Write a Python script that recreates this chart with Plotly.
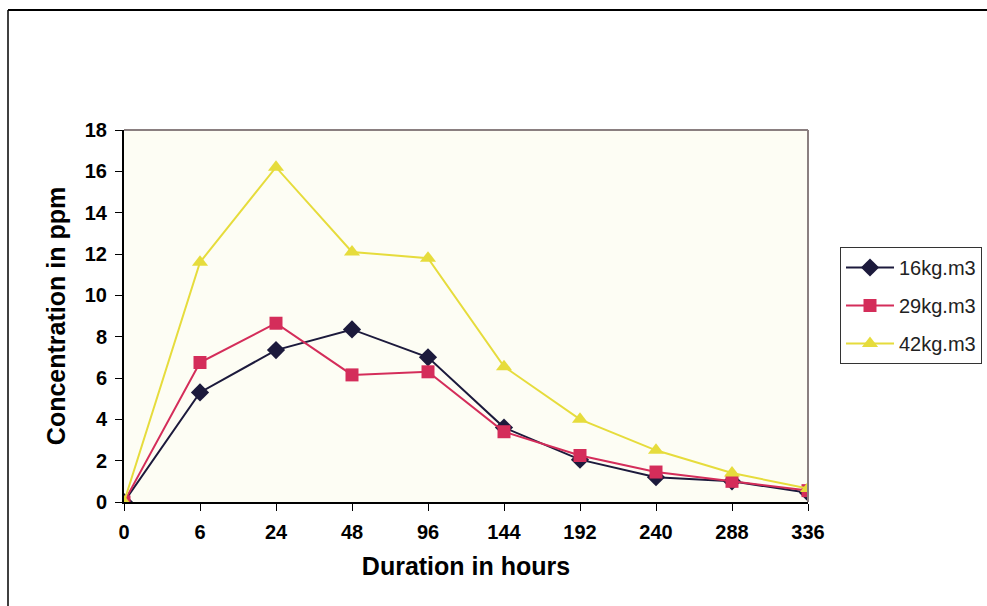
import plotly.graph_objects as go

hours = ["0", "6", "24", "48", "96", "144", "192", "240", "288", "336"]
s16 = [0, 5.3, 7.35, 8.35, 7.0, 3.6, 2.05, 1.2, 1.0, 0.45]
s29 = [0, 6.75, 8.65, 6.15, 6.3, 3.4, 2.25, 1.45, 1.0, 0.55]
s42 = [0, 11.6, 16.2, 12.1, 11.8, 6.55, 4.0, 2.5, 1.4, 0.65]
names = ["16kg.m3", "29kg.m3", "42kg.m3"]
y_ticks = [0, 2, 4, 6, 8, 10, 12, 14, 16, 18]

colors = ["#1c1a3c", "#d42d5a", "#e6dc3c"]
symbols = ["diamond", "square", "triangle-up"]
sizes = [14, 13, 14]

fig = go.Figure()
for i, (vals, nm, c, sym, sz) in enumerate(zip([s16, s29, s42], names, colors, symbols, sizes)):
    fig.add_trace(go.Scatter(
        x=list(range(len(hours))), y=vals, name=nm, mode="lines+markers",
        legendgroup=f"g{i}",
        line=dict(color=c, width=2),
        marker=dict(symbol=sym, size=sz, color=c),
    ))

W, H = 987, 606
L, R, T, B = 124, 808, 130, 502
pw, ph = R - L, B - T

def px(x):
    return (x - L) / pw

def py(y):
    return (B - y) / ph

fig.update_layout(
    width=W, height=H,
    margin=dict(l=L, r=W - R, t=T, b=H - B, autoexpand=False),
    paper_bgcolor="white",
    plot_bgcolor="#fdfdf4",
    font=dict(family="Arial, Liberation Sans, sans-serif", color="black"),
    showlegend=True,
    legend=dict(
        x=px(840), y=py(247), xanchor="left", yanchor="top",
        bordercolor="#333333", borderwidth=1, bgcolor="white",
        font=dict(size=20, color="#222222"),
        itemwidth=48, tracegroupgap=9,
    ),
    xaxis=dict(
        range=[0, 9], tickmode="array", tickvals=list(range(len(hours))), ticktext=hours,
        showgrid=False, zeroline=False, showline=True, linecolor="black", linewidth=2,
        mirror=False, ticks="outside", ticklen=7, tickcolor="black",
        tickfont=dict(size=20, weight="bold", color="black"),
        ticklabelstandoff=4,
        title=dict(text="<b>Duration in hours</b>", font=dict(size=25), standoff=15),
    ),
    yaxis=dict(
        range=[0, 18], tickvals=y_ticks,
        showgrid=False, zeroline=False, showline=True, linecolor="black", linewidth=2,
        ticks="outside", ticklen=7, tickcolor="black",
        tickfont=dict(size=20, weight="bold", color="black"),
        ticklabelstandoff=4,
        title=dict(text="<b>Concentration in ppm</b>", font=dict(size=25), standoff=12),
    ),
    shapes=[
        dict(type="line", xref="paper", yref="paper", x0=0, x1=1, y0=1, y1=1,
             line=dict(color="#8a7f80", width=2)),
        dict(type="line", xref="paper", yref="paper", x0=1, x1=1, y0=0, y1=1,
             line=dict(color="#8a7f80", width=2)),
        dict(type="line", xref="paper", yref="paper", x0=px(8), x1=px(1000), y0=py(10), y1=py(10),
             line=dict(color="black", width=2)),
        dict(type="line", xref="paper", yref="paper", x0=px(8), x1=px(8), y0=py(10), y1=py(620),
             line=dict(color="black", width=1.5)),
    ],
)

fig.write_html("out.html")
